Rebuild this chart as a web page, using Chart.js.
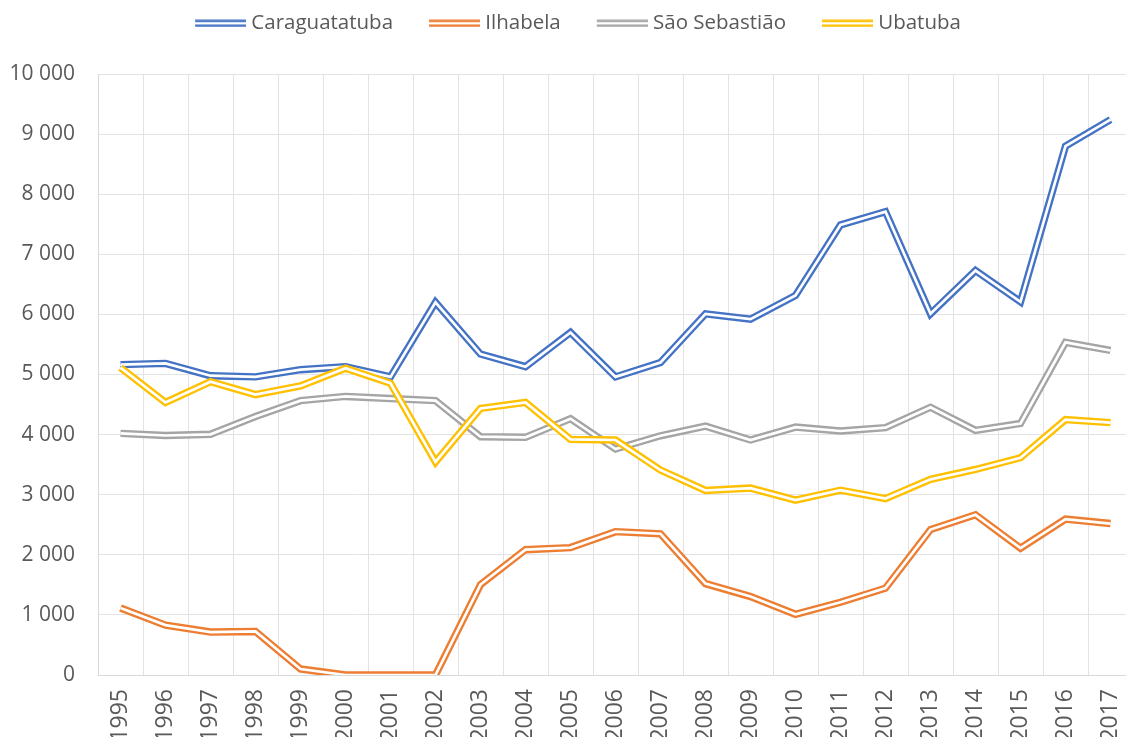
<!DOCTYPE html>
<html>
<head>
<meta charset="utf-8">
<script src="https://cdn.jsdelivr.net/npm/chart.js@4.4.1/dist/chart.umd.min.js"></script>
<style>
  html, body { margin: 0; padding: 0; background: #fff; overflow: hidden; }
  #wrap { width: 1133px; height: 737px; position: relative; }
</style>
</head>
<body>
<div id="wrap"><canvas id="chart"></canvas></div>
<script>
// Données
const years = ['1995','1996','1997','1998','1999','2000','2001','2002','2003','2004','2005','2006',
               '2007','2008','2009','2010','2011','2012','2013','2014','2015','2016','2017'];

const caraguatatuba = [5165, 5185, 4980, 4960, 5080, 5130, 4960, 6200, 5340, 5130, 5700, 4960,
                       5200, 6010, 5920, 6315, 7490, 7710, 6010, 6730, 6210, 8800, 9240];
const ilhabela = [1115, 830, 715, 725, 100, 0, 0, 0, 1505, 2085, 2120, 2385,
                  2350, 1520, 1305, 1010, 1210, 1445, 2420, 2665, 2110, 2595, 2520];
const saoSebastiao = [4020, 3985, 4005, 4300, 4565, 4635, 4600, 4565, 3965, 3955, 4265, 3760,
                      3980, 4140, 3910, 4125, 4060, 4115, 4455, 4070, 4185, 5535, 5400];
const ubatuba = [5115, 4535, 4880, 4665, 4810, 5105, 4855, 3545, 4435, 4535, 3920, 3910,
                 3410, 3070, 3110, 2910, 3075, 2935, 3255, 3420, 3615, 4250, 4200];

const seriesNames = ['Caraguatatuba', 'Ilhabela', 'São Sebastião', 'Ubatuba'];
const seriesColors = ['#4472C4', '#ED7D31', '#A5A5A5', '#FFC000'];
const seriesValues = [caraguatatuba, ilhabela, saoSebastiao, ubatuba];

const textColor = '#595959';
const fontFamily = '"Open Sans", "DejaVu Sans", sans-serif';

// icône "double trait" pour la légende (marge transparente à gauche pour l'espacement)
function legendIcon(color) {
    const c = document.createElement('canvas');
    c.width = 79;
    c.height = 8;
    const g = c.getContext('2d');
    g.fillStyle = color;
    g.fillRect(28, 0.5, 51, 2.4);
    g.fillRect(28, 5.3, 51, 2.4);
    return c;
}
const icons = seriesColors.map(legendIcon);

// chaque série = trait épais coloré + trait blanc fin par-dessus (ligne double)
const datasets = [];
seriesNames.forEach((name, i) => {
    const rank = (seriesNames.length - 1 - i) * 2; // Ubatuba au premier plan
    datasets.push({
        label: name,
        data: seriesValues[i],
        borderColor: seriesColors[i],
        borderWidth: 7.4,
        pointRadius: 0,
        tension: 0,
        fill: false,
        order: rank + 1
    });
    datasets.push({
        label: name + ' (gap)',
        data: seriesValues[i],
        borderColor: '#ffffff',
        borderWidth: 2.7,
        pointRadius: 0,
        tension: 0,
        fill: false,
        order: rank
    });
});

const fmt = v => String(v).replace(/\B(?=(\d{3})+(?!\d))/g, ' ');

// hauteur fixe pour la légende
const legendHeight = {
    id: 'legendHeight',
    beforeLayout(chart) {
        const lg = chart.legend;
        if (lg && !lg._patched) {
            const fit = lg.fit;
            lg.fit = function () { fit.call(this); this.height = 74; };
            lg._patched = true;
        }
    }
};

const ctx = document.getElementById('chart').getContext('2d');
new Chart(ctx, {
    type: 'line',
    data: { labels: years, datasets: datasets },
    plugins: [legendHeight],
    options: {
        responsive: true,
        maintainAspectRatio: false,
        animation: false,
        events: [],
        layout: { padding: 0 },
        plugins: {
            tooltip: { enabled: false },
            legend: {
                position: 'top',
                onClick: null,
                labels: {
                    usePointStyle: true,
                    pointStyleWidth: 69,
                    padding: 13,
                    color: textColor,
                    font: { family: fontFamily, size: 20.5 },
                    generateLabels: () => seriesNames.map((n, i) => ({
                        text: n,
                        pointStyle: icons[i],
                        fontColor: textColor,
                        fillStyle: 'transparent',
                        strokeStyle: 'transparent',
                        lineWidth: 0,
                        hidden: false,
                        datasetIndex: i * 2
                    }))
                }
            }
        },
        scales: {
            x: {
                offset: true,
                grid: { offset: true, color: '#e3e3e3', drawTicks: false },
                border: { color: '#d9d9d9' },
                ticks: {
                    color: textColor,
                    font: { family: fontFamily, size: 23 },
                    minRotation: 90,
                    maxRotation: 90,
                    autoSkip: false,
                    padding: 14
                },
                afterFit: s => { s.height = 62; s.paddingLeft = 0; s.paddingRight = 0; }
            },
            y: {
                min: 0,
                max: 10000,
                grid: { color: '#e3e3e3', drawTicks: false },
                border: { color: '#d9d9d9' },
                ticks: {
                    stepSize: 1000,
                    color: textColor,
                    font: { family: fontFamily, size: 21 },
                    padding: 23,
                    callback: v => fmt(v)
                },
                afterFit: s => { s.width = 98; s.paddingTop = 0; s.paddingBottom = 0; }
            }
        }
    }
});
</script>
</body>
</html>
